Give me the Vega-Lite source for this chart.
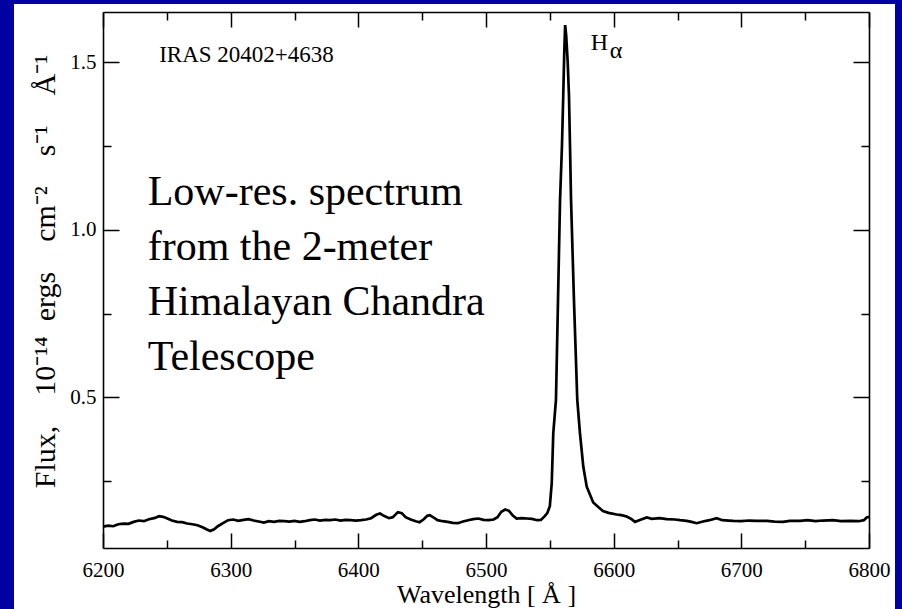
{
  "$schema": "https://vega.github.io/schema/vega-lite/v6.json",
  "width": 881,
  "height": 605,
  "autosize": {"type": "none"},
  "padding": {"left": 14, "top": 4, "right": 7, "bottom": 0},
  "background": "#0000a3",
  "config": {
    "font": "Liberation Serif",
    "view": {"fill": "white", "stroke": null},
    "axis": {
      "grid": false,
      "domainColor": "black",
      "domainWidth": 1.6,
      "tickColor": "black",
      "tickWidth": 1.5,
      "labelFont": "Liberation Serif",
      "labelFontSize": 21,
      "labelColor": "black",
      "labelFlush": false,
      "labelOverlap": false,
      "labelBound": false,
      "titleFont": "Liberation Serif",
      "titleFontSize": 26,
      "titleFontWeight": "normal",
      "titleColor": "black"
    }
  },
  "data": {
    "values": [
      {"wavelength": 6200, "flux": 0.114}, {"wavelength": 6204, "flux": 0.117}, {"wavelength": 6208, "flux": 0.115},
      {"wavelength": 6212, "flux": 0.121}, {"wavelength": 6216, "flux": 0.123}, {"wavelength": 6220, "flux": 0.122},
      {"wavelength": 6224, "flux": 0.128}, {"wavelength": 6228, "flux": 0.132}, {"wavelength": 6232, "flux": 0.130},
      {"wavelength": 6236, "flux": 0.136}, {"wavelength": 6240, "flux": 0.139}, {"wavelength": 6244, "flux": 0.145},
      {"wavelength": 6247, "flux": 0.143}, {"wavelength": 6250, "flux": 0.139}, {"wavelength": 6254, "flux": 0.132},
      {"wavelength": 6258, "flux": 0.128}, {"wavelength": 6262, "flux": 0.127}, {"wavelength": 6266, "flux": 0.123},
      {"wavelength": 6270, "flux": 0.121}, {"wavelength": 6274, "flux": 0.118}, {"wavelength": 6278, "flux": 0.112},
      {"wavelength": 6281, "flux": 0.106}, {"wavelength": 6284, "flux": 0.101}, {"wavelength": 6287, "flux": 0.106},
      {"wavelength": 6290, "flux": 0.115}, {"wavelength": 6294, "flux": 0.124}, {"wavelength": 6298, "flux": 0.133},
      {"wavelength": 6302, "flux": 0.135}, {"wavelength": 6306, "flux": 0.131}, {"wavelength": 6310, "flux": 0.134},
      {"wavelength": 6314, "flux": 0.136}, {"wavelength": 6318, "flux": 0.132}, {"wavelength": 6322, "flux": 0.129},
      {"wavelength": 6326, "flux": 0.126}, {"wavelength": 6330, "flux": 0.130}, {"wavelength": 6334, "flux": 0.128},
      {"wavelength": 6338, "flux": 0.131}, {"wavelength": 6342, "flux": 0.130}, {"wavelength": 6346, "flux": 0.129},
      {"wavelength": 6350, "flux": 0.131}, {"wavelength": 6354, "flux": 0.128}, {"wavelength": 6358, "flux": 0.130},
      {"wavelength": 6362, "flux": 0.133}, {"wavelength": 6366, "flux": 0.135}, {"wavelength": 6370, "flux": 0.132},
      {"wavelength": 6374, "flux": 0.134}, {"wavelength": 6378, "flux": 0.133}, {"wavelength": 6382, "flux": 0.135},
      {"wavelength": 6386, "flux": 0.132}, {"wavelength": 6390, "flux": 0.134}, {"wavelength": 6394, "flux": 0.133},
      {"wavelength": 6398, "flux": 0.132}, {"wavelength": 6402, "flux": 0.133}, {"wavelength": 6406, "flux": 0.135},
      {"wavelength": 6410, "flux": 0.139}, {"wavelength": 6414, "flux": 0.149}, {"wavelength": 6417, "flux": 0.153},
      {"wavelength": 6420, "flux": 0.146}, {"wavelength": 6424, "flux": 0.139}, {"wavelength": 6427, "flux": 0.142},
      {"wavelength": 6431, "flux": 0.157}, {"wavelength": 6434, "flux": 0.154}, {"wavelength": 6437, "flux": 0.142},
      {"wavelength": 6441, "flux": 0.135}, {"wavelength": 6445, "flux": 0.130}, {"wavelength": 6448, "flux": 0.127},
      {"wavelength": 6451, "flux": 0.135}, {"wavelength": 6454, "flux": 0.146}, {"wavelength": 6456, "flux": 0.148},
      {"wavelength": 6459, "flux": 0.141}, {"wavelength": 6462, "flux": 0.133}, {"wavelength": 6466, "flux": 0.130},
      {"wavelength": 6470, "flux": 0.128}, {"wavelength": 6474, "flux": 0.125}, {"wavelength": 6478, "flux": 0.124},
      {"wavelength": 6482, "flux": 0.129}, {"wavelength": 6486, "flux": 0.133}, {"wavelength": 6490, "flux": 0.136},
      {"wavelength": 6494, "flux": 0.138}, {"wavelength": 6498, "flux": 0.134}, {"wavelength": 6502, "flux": 0.133},
      {"wavelength": 6506, "flux": 0.135}, {"wavelength": 6509, "flux": 0.142}, {"wavelength": 6512, "flux": 0.158},
      {"wavelength": 6515, "flux": 0.165}, {"wavelength": 6518, "flux": 0.161}, {"wavelength": 6521, "flux": 0.147},
      {"wavelength": 6524, "flux": 0.138}, {"wavelength": 6528, "flux": 0.139}, {"wavelength": 6532, "flux": 0.138},
      {"wavelength": 6536, "flux": 0.137}, {"wavelength": 6540, "flux": 0.133}, {"wavelength": 6543, "flux": 0.134},
      {"wavelength": 6546, "flux": 0.145}, {"wavelength": 6548, "flux": 0.154}, {"wavelength": 6550, "flux": 0.175},
      {"wavelength": 6551.5, "flux": 0.244}, {"wavelength": 6552.7, "flux": 0.393}, {"wavelength": 6554.8, "flux": 0.492},
      {"wavelength": 6556.4, "flux": 0.79}, {"wavelength": 6558.0, "flux": 1.089}, {"wavelength": 6559.5, "flux": 1.25},
      {"wavelength": 6560.5, "flux": 1.40}, {"wavelength": 6561.3, "flux": 1.53}, {"wavelength": 6562.0, "flux": 1.611},
      {"wavelength": 6562.8, "flux": 1.58}, {"wavelength": 6564.0, "flux": 1.50}, {"wavelength": 6565.0, "flux": 1.40},
      {"wavelength": 6565.8, "flux": 1.25}, {"wavelength": 6566.6, "flux": 1.09}, {"wavelength": 6568.9, "flux": 0.79},
      {"wavelength": 6571.5, "flux": 0.492}, {"wavelength": 6573.6, "flux": 0.393}, {"wavelength": 6576.2, "flux": 0.293},
      {"wavelength": 6578.9, "flux": 0.233}, {"wavelength": 6584.0, "flux": 0.186}, {"wavelength": 6591.6, "flux": 0.160},
      {"wavelength": 6596, "flux": 0.155}, {"wavelength": 6602.4, "flux": 0.150}, {"wavelength": 6606, "flux": 0.148},
      {"wavelength": 6610.2, "flux": 0.144}, {"wavelength": 6614, "flux": 0.136}, {"wavelength": 6616.7, "flux": 0.128},
      {"wavelength": 6620, "flux": 0.133}, {"wavelength": 6625.9, "flux": 0.141}, {"wavelength": 6630, "flux": 0.137},
      {"wavelength": 6636, "flux": 0.139}, {"wavelength": 6641.5, "flux": 0.136}, {"wavelength": 6648, "flux": 0.135},
      {"wavelength": 6652, "flux": 0.133}, {"wavelength": 6657.2, "flux": 0.131}, {"wavelength": 6661, "flux": 0.128},
      {"wavelength": 6665, "flux": 0.124}, {"wavelength": 6670, "flux": 0.129}, {"wavelength": 6675, "flux": 0.133},
      {"wavelength": 6680.7, "flux": 0.139}, {"wavelength": 6685, "flux": 0.133}, {"wavelength": 6690, "flux": 0.132},
      {"wavelength": 6693.7, "flux": 0.131}, {"wavelength": 6700, "flux": 0.130}, {"wavelength": 6706, "flux": 0.132},
      {"wavelength": 6712, "flux": 0.131}, {"wavelength": 6719.9, "flux": 0.131}, {"wavelength": 6726, "flux": 0.129},
      {"wavelength": 6732.6, "flux": 0.128}, {"wavelength": 6738, "flux": 0.131}, {"wavelength": 6746, "flux": 0.131},
      {"wavelength": 6752, "flux": 0.133}, {"wavelength": 6758, "flux": 0.130}, {"wavelength": 6764, "flux": 0.132},
      {"wavelength": 6771.8, "flux": 0.133}, {"wavelength": 6778, "flux": 0.130}, {"wavelength": 6785.3, "flux": 0.131},
      {"wavelength": 6792, "flux": 0.130}, {"wavelength": 6796, "flux": 0.133}, {"wavelength": 6798.2, "flux": 0.141},
      {"wavelength": 6800, "flux": 0.143}
    ]
  },
  "resolve": {"axis": {"x": "independent", "y": "independent"}},
  "layer": [
    {
      "mark": {"type": "line", "stroke": "black", "strokeWidth": 2.7},
      "encoding": {
        "x": {
          "field": "wavelength", "type": "quantitative",
          "scale": {"domain": [6200, 6800], "range": [89, 855], "nice": false, "zero": false},
          "axis": {"orient": "bottom", "offset": -61, "values": [6200, 6300, 6400, 6500, 6600, 6700, 6800],
                   "tickSize": -15, "labelPadding": 26, "format": "d", "labelFont": "Liberation Serif", "labelFontSize": 21,
                   "title": "Wavelength [ Å ]", "titlePadding": 1}
        },
        "y": {
          "field": "flux", "type": "quantitative",
          "scale": {"domain": [0.05, 1.65], "range": [544, 8], "nice": false, "zero": false},
          "axis": {"orient": "left", "offset": -89, "values": [0.5, 1.0, 1.5], "format": ".1f",
                   "tickSize": -16, "labelPadding": 23, "labelFont": "Liberation Serif", "labelFontSize": 21,
                   "title": "Flux,\u200310⁻¹⁴\u2002ergs\u2003cm⁻²\u2003s⁻¹\u2003Å⁻¹", "titleFontSize": 30, "titlePadding": 9, "titleY": 267}
        }
      }
    },
    {
      "mark": {"type": "line", "strokeOpacity": 0},
      "encoding": {
        "x": {"field": "wavelength", "type": "quantitative",
              "axis": {"orient": "bottom", "offset": -61, "values": [6250, 6350, 6450, 6550, 6650, 6750],
                       "tickSize": -8, "labels": false, "domain": false, "title": null}},
        "y": {"field": "flux", "type": "quantitative",
              "axis": {"orient": "left", "offset": -89, "values": [0.25, 0.75, 1.25],
                       "tickSize": -8, "labels": false, "domain": false, "title": null}}
      }
    },
    {
      "mark": {"type": "line", "strokeOpacity": 0},
      "encoding": {
        "x": {"field": "wavelength", "type": "quantitative",
              "axis": {"orient": "top", "offset": -8, "values": [6200, 6300, 6400, 6500, 6600, 6700, 6800],
                       "tickSize": -15, "labels": false, "title": null}},
        "y": {"field": "flux", "type": "quantitative",
              "axis": {"orient": "right", "offset": -26, "values": [0.5, 1.0, 1.5],
                       "tickSize": -16, "labels": false, "title": null}}
      }
    },
    {
      "mark": {"type": "line", "strokeOpacity": 0},
      "encoding": {
        "x": {"field": "wavelength", "type": "quantitative",
              "axis": {"orient": "top", "offset": -8, "values": [6250, 6350, 6450, 6550, 6650, 6750],
                       "tickSize": -8, "labels": false, "domain": false, "title": null}},
        "y": {"field": "flux", "type": "quantitative",
              "axis": {"orient": "right", "offset": -26, "values": [0.25, 0.75, 1.25],
                       "tickSize": -8, "labels": false, "domain": false, "title": null}}
      }
    },
    {
      "data": {"values": [{"label": "IRAS 20402+4638"}]},
      "mark": {"type": "text", "font": "Liberation Serif", "fontSize": 23, "align": "left", "baseline": "alphabetic", "fill": "black"},
      "encoding": {"text": {"field": "label"}, "x": {"datum": 6244, "type": "quantitative", "axis": null}, "y": {"datum": 1.5, "type": "quantitative", "axis": null}}
    },
    {
      "data": {"values": [{"label": "H"}]},
      "mark": {"type": "text", "font": "Liberation Serif", "fontSize": 24, "align": "left", "baseline": "alphabetic", "fill": "black"},
      "encoding": {"text": {"field": "label"}, "x": {"datum": 6582, "type": "quantitative", "axis": null}, "y": {"datum": 1.537, "type": "quantitative", "axis": null}}
    },
    {
      "data": {"values": [{"label": "α"}]},
      "mark": {"type": "text", "font": "Liberation Serif", "fontSize": 24, "align": "left", "baseline": "alphabetic", "fill": "black"},
      "encoding": {"text": {"field": "label"}, "x": {"datum": 6597, "type": "quantitative", "axis": null}, "y": {"datum": 1.513, "type": "quantitative", "axis": null}}
    },
    {
      "data": {"values": [{"label": ["Low-res. spectrum", "from the 2-meter", "Himalayan Chandra", "Telescope"]}]},
      "mark": {"type": "text", "font": "Liberation Serif", "fontSize": 42, "lineHeight": 55, "align": "left", "baseline": "alphabetic", "fill": "black"},
      "encoding": {"text": {"field": "label"}, "x": {"datum": 6235, "type": "quantitative", "axis": null}, "y": {"datum": 1.074, "type": "quantitative", "axis": null}}
    }
  ]
}
